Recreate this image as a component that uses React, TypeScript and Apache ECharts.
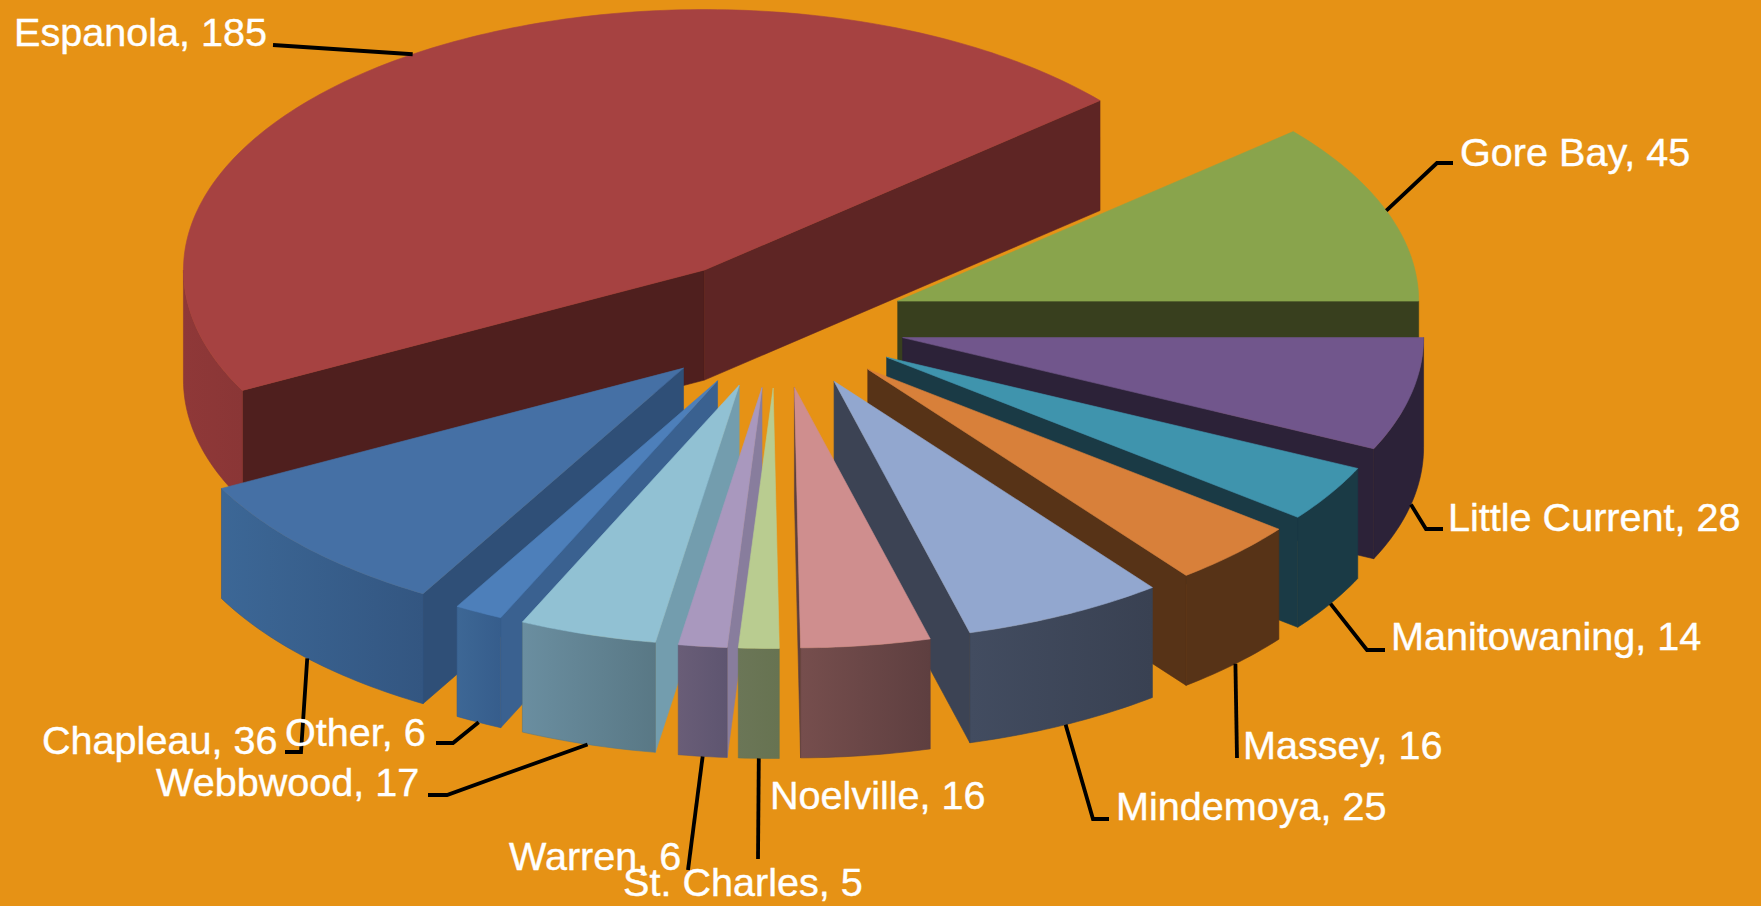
import React, { useEffect, useRef } from "react";
import * as echarts from "echarts";

const CATEGORIES = ["Espanola", "Gore Bay", "Little Current", "Manitowaning", "Massey", "Mindemoya", "Noelville", "St. Charles", "Warren", "Webbwood", "Other", "Chapleau"];
const VALUES = [185, 45, 28, 14, 16, 25, 16, 5, 6, 17, 6, 36];

// [top, start face, end face, outer wall left, outer wall right]
const SLICE_COLORS = [
  ["#A64241", "#4F1F1E", "#5E2524", "#8F3838", "#8A3636"],
  ["#89A44C", "#383F1E", "#383F1E", "#383F1E", "#383F1E"],
  ["#71568C", "#2C2238", "#2C2238", "#2C2238", "#2C2238"],
  ["#3F94AD", "#1A3A45", "#1A3A45", "#1A3A45", "#1A3A45"],
  ["#D8803A", "#573317", "#573317", "#573317", "#573317"],
  ["#92A7CF", "#3C4354", "#3C4354", "#424C60", "#394152"],
  ["#CF8E8E", "#5C3F3F", "#5C3F3F", "#764E4D", "#5E3F40"],
  ["#B9CC90", "#667250", "#667250", "#6B7657", "#677351"],
  ["#A998BE", "#887D9D", "#887D9D", "#695D77", "#5E5570"],
  ["#91C1D3", "#739DAE", "#739DAE", "#6A8EA0", "#597885"],
  ["#4D7FBA", "#3A6190", "#3A6190", "#3D6795", "#365D8C"],
  ["#4570A5", "#2F4F77", "#2F4F77", "#3C6796", "#335681"],
];

// Hand-placed label layout: text left, baseline, then the leader's bends.
const LABEL_LAYOUT: { x: number; y: number; bends: number[][] }[] = [
  { x: 14, y: 46, bends: [[273, 45]] },
  { x: 1460, y: 166, bends: [[1437, 163], [1453, 163]] },
  { x: 1448, y: 531, bends: [[1426, 529], [1443, 529]] },
  { x: 1391, y: 650, bends: [[1367, 650], [1385, 650]] },
  { x: 1243, y: 759, bends: [[1237, 758]] },
  { x: 1116, y: 820, bends: [[1093, 819], [1109, 819]] },
  { x: 770, y: 809, bends: [] },
  { x: 623, y: 896, bends: [[758, 859]] },
  { x: 509, y: 870, bends: [[688, 870]] },
  { x: 156, y: 796, bends: [[447, 795], [428, 795]] },
  { x: 285, y: 746, bends: [[453, 743], [436, 743]] },
  { x: 42, y: 754, bends: [[301, 752], [285, 752]] },
];

const BG = "#E69215";
const CX = 776.7;
const CY = 323.5;
const RX = 521;
const RY = 260.5;
const EXPLODE = 129;
const DEPTH = 110;
const FONT_SIZE = 39.6;
const TOTAL = VALUES.reduce((a, b) => a + b, 0);
const START_ANGLE = -((VALUES[0] + VALUES[1]) / TOTAL) * 360;

const rad = (d: number) => (d * Math.PI) / 180;
const sliceAngles = (i: number) => {
  const before = VALUES.slice(0, i).reduce((a, b) => a + b, 0);
  const a0 = START_ANGLE + (before / TOTAL) * 360;
  const a1 = a0 + (VALUES[i] / TOTAL) * 360;
  return { a0, a1, mid: (a0 + a1) / 2 };
};
const apexOf = (mid: number) => [
  CX + EXPLODE * Math.cos(rad(mid)),
  CY + (EXPLODE / 2) * Math.sin(rad(mid)),
];
const rimPoint = (apex: number[], a: number, dz = 0) => [
  apex[0] + RX * Math.cos(rad(a)),
  apex[1] + RY * Math.sin(rad(a)) + dz,
];
const arcPoints = (apex: number[], from: number, to: number, dz = 0) => {
  const n = Math.max(2, Math.ceil(Math.abs(to - from)));
  const pts: number[][] = [];
  for (let k = 0; k <= n; k++) pts.push(rimPoint(apex, from + ((to - from) * k) / n, dz));
  return pts;
};
const poly = (points: number[][], fill: any, stroke: string) => ({
  type: "polygon",
  shape: { points },
  style: { fill, stroke, lineWidth: 0.6 },
  silent: true,
});

const renderSlice = (_: any, api: any) => {
  const i = api.value(0);
  const { a0, a1, mid } = sliceAngles(i);
  const apex = apexOf(mid);
  const [top, startC, endC, wallL, wallR] = SLICE_COLORS[i];
  const children: any[] = [];
  const radial = (a: number, c: string) => {
    const p = rimPoint(apex, a);
    return poly([apex, p, [p[0], p[1] + DEPTH], [apex[0], apex[1] + DEPTH]], c, c);
  };
  if (Math.cos(rad(a0)) < 0) children.push(radial(a0, startC));
  if (Math.cos(rad(a1)) > 0) children.push(radial(a1, endC));
  for (const k of [-360, 0]) {
    const lo = Math.max(a0, k);
    const hi = Math.min(a1, k + 180);
    if (hi > lo) {
      const upper = arcPoints(apex, lo, hi);
      const lower = arcPoints(apex, hi, lo, DEPTH);
      const fill =
        wallL === wallR
          ? wallL
          : new echarts.graphic.LinearGradient(0, 0, 1, 0, [
              { offset: 0, color: wallL },
              { offset: 1, color: wallR },
            ]);
      children.push(poly([...upper, ...lower], fill, wallR));
    }
  }
  children.push(poly([apex, ...arcPoints(apex, a0, a1)], top, top));
  return { type: "group", children };
};

const renderLeader = (_: any, api: any) => {
  const i = api.value(0);
  const { bends } = LABEL_LAYOUT[i];
  if (!bends.length) return { type: "group", children: [] };
  const { mid } = sliceAngles(i);
  // start on the slice rim at its mid angle
  const start = rimPoint(apexOf(mid), mid, Math.sin(rad(mid)) > 0 ? DEPTH : 0);
  return {
    type: "polyline",
    shape: { points: [start, ...bends] },
    style: { stroke: "#000", lineWidth: 3.8, fill: "none" },
    silent: true,
  };
};

const renderLabel = (_: any, api: any) => {
  const i = api.value(0);
  const { x, y } = LABEL_LAYOUT[i];
  return {
    type: "text",
    silent: true,
    style: {
      x,
      y: y - FONT_SIZE * 0.36,
      text: `${CATEGORIES[i]}, ${VALUES[i]}`,
      fill: "#FFFFFF",
      stroke: "#FFFFFF",
      lineWidth: 0.4,
      font: `${FONT_SIZE}px "Liberation Sans", Arial, sans-serif`,
      textAlign: "left",
      textVerticalAlign: "middle",
    },
  };
};

export default function App() {
  const ref = useRef<HTMLDivElement>(null);
  useEffect(() => {
    document.body.style.margin = "0";
    const chart = echarts.init(ref.current!, null, { renderer: "svg" });
    const paintOrder = VALUES.map((_, i) => i).sort(
      (a, b) => Math.sin(rad(sliceAngles(a).mid)) - Math.sin(rad(sliceAngles(b).mid))
    );
    chart.setOption({
      animation: false,
      backgroundColor: BG,
      tooltip: { show: false },
      series: [
        { type: "custom", coordinateSystem: "none", silent: true, z: 1, renderItem: renderSlice, data: paintOrder.map((i) => [i]) },
        { type: "custom", coordinateSystem: "none", silent: true, z: 2, renderItem: renderLeader, data: VALUES.map((_, i) => [i]) },
        { type: "custom", coordinateSystem: "none", silent: true, z: 3, renderItem: renderLabel, data: VALUES.map((_, i) => [i]) },
      ],
    });
    return () => chart.dispose();
  }, []);
  return <div ref={ref} style={{ width: 1761, height: 906 }} />;
}
